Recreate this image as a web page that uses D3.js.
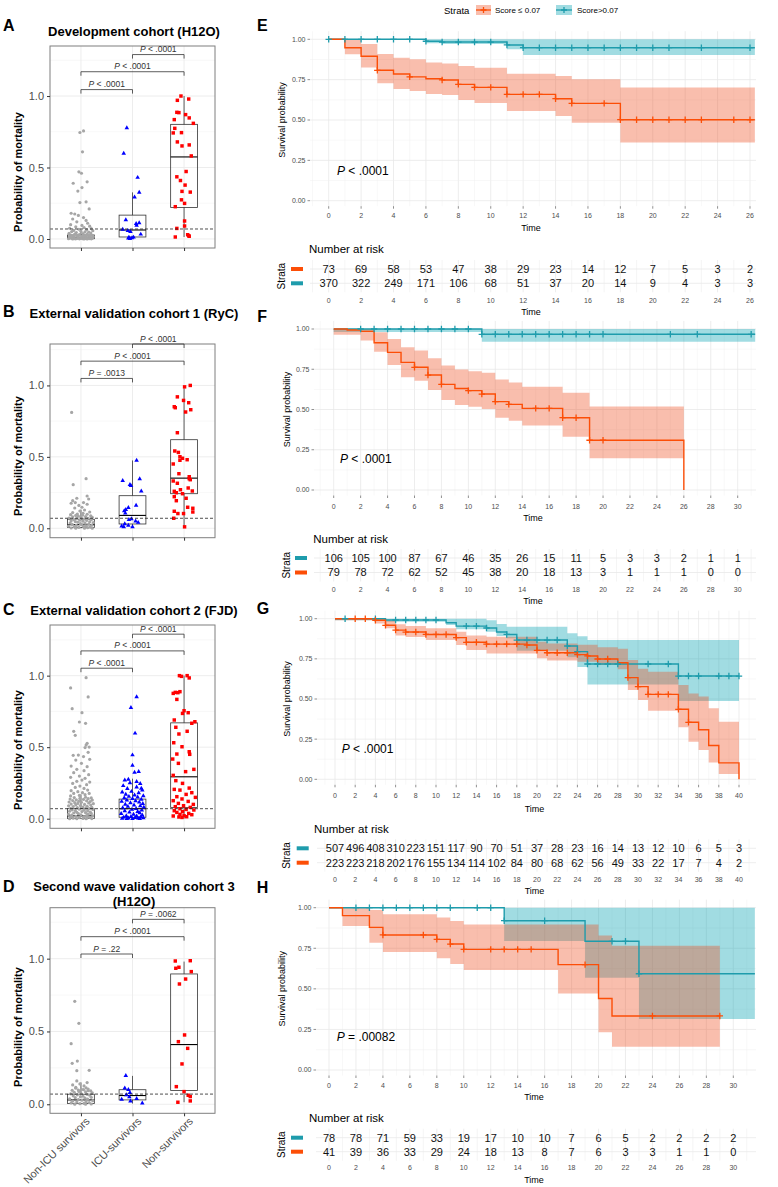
<!DOCTYPE html>
<html><head><meta charset="utf-8">
<script src="https://cdn.jsdelivr.net/npm/d3@7"></script>
<style>
body{margin:0;background:#fff}
svg{display:block}
text{font-family:"Liberation Sans",Arial,Helvetica,sans-serif}
</style></head>
<body><svg id="c" width="778" height="1187"></svg>
<script>
// ================= DATA =================
const categories = ['Non-ICU survivors','ICU-survivors','Non-survivors'];
const boxYTicks = [0, 0.5, 1.0];
const kmYTicks = [0, 0.25, 0.5, 0.75, 1.0];
const strataLabels = ['Score \u2264 0.07','Score>0.07'];
const bracketPairs = [[0,1],[0,2],[1,2]];

// points: [probability, horizontal jitter in category units]
const A_nonICU = [[0.745,-0.02],[0.756,0.05],[0.61,0.03],[0.47,-0.04],[0.46,0.01],[0.39,-0.15],[0.40,0.12],[0.335,-0.06],[0.36,0.02],[0.255,-0.02],[0.26,0.10],[0.21,0.16],[0.18,-0.19],[0.175,-0.12],[0.165,-0.05],[0.15,0.05],[0.14,-0.16],[0.13,0.10],[0.12,-0.08],[0.11,0.13],[0.10,-0.20],[0.095,0.02],[0.09,0.17],[0.085,-0.10],[0.08,0.06],[0.075,-0.22],[0.072,0.20],[0.068,-0.04],[0.065,0.11],[0.06,-0.14],[0.058,0.23],[0.055,0.00],[0.052,-0.18],[0.05,0.08],[0.048,0.15],[0.045,-0.09],[0.042,0.19],[0.04,-0.23],[0.038,0.04],[0.035,-0.12],[0.033,0.12],[0.03,-0.03],[0.028,0.21],[0.026,-0.19],[0.024,0.07],[0.022,-0.07],[0.02,0.16],[0.018,-0.15],[0.016,0.02],[0.015,0.24],[0.013,-0.22],[0.012,0.10],[0.011,-0.05],[0.010,0.18],[0.009,-0.13],[0.008,0.05],[0.007,-0.20],[0.006,0.13],[0.005,-0.01],[0.005,0.22],[0.004,-0.17],[0.004,0.09],[0.003,-0.08],[0.003,0.16],[0.002,-0.24],[0.002,0.03],[0.001,-0.11],[0.001,0.20],[0.001,-0.03],[0.0,0.12],[0.0,-0.16],[0.0,0.06]];
const A_ICU = [[0.777,-0.11],[0.598,-0.17],[0.43,0.10],[0.326,0.13],[0.293,0.04],[0.133,-0.13],[0.107,0.07],[0.112,0.13],[0.095,0.08],[0.067,-0.19],[0.058,-0.09],[0.051,-0.04],[0.033,0.16],[0.012,-0.07],[0.007,-0.01],[0.012,0.02],[0.002,-0.05],[0.005,-0.08]];
const A_nonSurv = [[1.0,-0.06],[0.979,0.09],[0.97,-0.13],[0.886,-0.14],[0.884,-0.1],[0.87,0.03],[0.835,-0.19],[0.847,0.10],[0.809,0.18],[0.774,-0.18],[0.742,-0.21],[0.744,-0.05],[0.679,-0.13],[0.651,-0.04],[0.658,0.10],[0.581,0.14],[0.472,0.04],[0.435,-0.14],[0.409,-0.07],[0.377,0.02],[0.333,-0.04],[0.328,0.12],[0.274,-0.05],[0.249,0.01],[0.226,-0.17],[0.126,0.01],[0.091,0.01],[0.074,-0.14],[0.014,-0.17],[0.03,0.07],[0.023,0.09],[0.019,0.10]];
const A_box = [[0,0.002,0.012,0.028,0.064],[0.002,0.014,0.063,0.167,0.326],[0.014,0.221,0.574,0.802,1.0]];
const A_bracketY = [1.045,1.17,1.29];
const A_pLabels = ['P < .0001','P < .0001','P < .0001'];

const B_nonICU = [[0.811,-0.18],[0.347,0.10],[0.305,-0.15],[0.226,0.12],[0.21,-0.08],[0.205,0.15],[0.193,-0.16],[0.18,-0.11],[0.18,0.05],[0.175,-0.19],[0.16,-0.04],[0.168,0.12],[0.147,0.02],[0.142,-0.12],[0.121,-0.02],[0.128,0.07],[0.114,0.17],[0.11,-0.16],[0.105,0.04],[0.10,-0.07],[0.098,0.12],[0.095,-0.2],[0.092,0.03],[0.09,-0.1],[0.087,0.19],[0.085,-0.05],[0.082,0.09],[0.08,-0.16],[0.077,0.22],[0.075,0.0],[0.072,-0.23],[0.07,0.14],[0.067,-0.08],[0.065,0.06],[0.062,-0.14],[0.06,0.2],[0.057,-0.02],[0.055,0.11],[0.052,-0.19],[0.05,0.04],[0.047,-0.11],[0.045,0.17],[0.042,-0.06],[0.04,0.24],[0.037,-0.21],[0.035,0.08],[0.032,-0.01],[0.03,0.15],[0.027,-0.17],[0.025,0.02],[0.022,0.21],[0.02,-0.09],[0.017,0.1],[0.015,-0.24],[0.012,0.05],[0.01,-0.13],[0.008,0.18],[0.006,-0.04],[0.004,0.13],[0.002,-0.19],[0.001,0.07],[0.0,-0.1],[0.0,0.22]];
const B_ICU = [[0.475,0.08],[0.345,0.14],[0.333,-0.19],[0.305,-0.05],[0.298,-0.03],[0.26,0.17],[0.16,0.07],[0.13,-0.13],[0.122,-0.16],[0.145,-0.08],[0.105,-0.14],[0.065,-0.02],[0.06,-0.07],[0.05,0.06],[0.04,0.11],[0.03,-0.15],[0.02,-0.08],[0.01,-0.17],[0.01,0.0],[0.015,-0.21]];
const B_nonSurv = [[1.0,0.12],[0.99,0.01],[0.92,-0.13],[0.895,-0.01],[0.879,0.09],[0.851,-0.19],[0.844,-0.17],[0.814,0.03],[0.83,0.13],[0.669,-0.13],[0.541,-0.18],[0.531,-0.11],[0.501,-0.08],[0.49,-0.03],[0.48,0.06],[0.476,-0.08],[0.45,-0.21],[0.382,-0.10],[0.361,0.10],[0.347,0.10],[0.34,0.12],[0.331,-0.21],[0.315,-0.13],[0.282,0.08],[0.27,-0.07],[0.259,-0.19],[0.261,0.16],[0.249,-0.15],[0.242,-0.03],[0.221,-0.19],[0.21,0.04],[0.193,-0.15],[0.147,0.07],[0.14,0.17],[0.119,-0.19],[0.114,0.17],[0.103,-0.12],[0.103,-0.01],[0.07,-0.2],[0.01,0.01]];
const B_box = [[0,0.005,0.025,0.063,0.13],[0.005,0.03,0.09,0.228,0.475],[0.01,0.242,0.351,0.62,0.98]];
const B_bracketY = [1.049,1.17,1.29];
const B_pLabels = ['P = .0013','P < .0001','P < .0001'];

const C_nonICU = [[0.986,0.10],[0.914,-0.2],[0.851,0.14],[0.769,-0.17],[0.741,0.02],[0.676,-0.03],[0.667,0.09],[0.611,-0.14],[0.583,-0.11],[0.527,0.12],[0.515,0.10],[0.501,0.16],[0.497,0.08],[0.464,0.14],[0.445,-0.05],[0.443,-0.15],[0.434,0.05],[0.41,-0.1],[0.415,0.17],[0.387,0.01],[0.368,-0.19],[0.364,0.12],[0.345,-0.08],[0.336,0.06],[0.322,-0.14],[0.308,0.15],[0.298,-0.03],[0.289,-0.2],[0.282,0.08],[0.27,0.02],[0.261,-0.08],[0.256,0.17],[0.247,-0.16],[0.238,0.11],[0.228,-0.02],[0.219,-0.11],[0.212,0.06],[0.2,0.13],[0.196,-0.19],[0.189,-0.06],[0.182,0.03],[0.177,-0.14],[0.177,0.16],[0.168,0.08],[0.163,-0.03],[0.159,-0.2],[0.15,0.09],[0.148,-0.13],[0.145,0.2],[0.142,-0.02],[0.14,0.14],[0.137,-0.21],[0.135,0.05],[0.132,-0.09],[0.13,0.22],[0.127,-0.16],[0.125,0.11],[0.122,-0.04],[0.12,0.18],[0.117,-0.23],[0.115,0.01],[0.112,-0.12],[0.11,0.15],[0.107,-0.06],[0.105,0.24],[0.102,-0.19],[0.1,0.07],[0.097,-0.1],[0.095,0.19],[0.092,-0.01],[0.09,-0.24],[0.087,0.12],[0.085,-0.15],[0.082,0.04],[0.08,0.21],[0.077,-0.07],[0.075,0.1],[0.072,-0.2],[0.07,0.16],[0.067,-0.03],[0.065,0.23],[0.062,-0.17],[0.06,0.06],[0.057,-0.11],[0.055,0.13],[0.052,-0.22],[0.05,0.02],[0.047,0.18],[0.045,-0.08],[0.042,0.09],[0.04,-0.14],[0.037,0.2],[0.035,-0.05],[0.032,0.14],[0.03,-0.24],[0.027,0.0],[0.025,-0.18],[0.022,0.11],[0.02,0.23],[0.017,-0.1],[0.015,0.06],[0.012,-0.2],[0.01,0.17],[0.008,-0.03],[0.006,0.12],[0.004,-0.15],[0.002,0.04],[0.001,0.21],[0.0,-0.08],[0.0,0.1],[0.0,-0.22]];
const C_ICU = [[0.851,0.08],[0.776,-0.03],[0.597,0.05],[0.445,0.0],[0.373,0.0],[0.329,0.12],[0.324,0.04],[0.27,-0.15],[0.275,-0.08],[0.259,0.08],[0.212,0.17],[0.25,-0.05],[0.245,0.15],[0.23,-0.18],[0.22,0.08],[0.21,-0.1],[0.2,0.19],[0.19,-0.02],[0.185,-0.2],[0.18,0.12],[0.17,-0.13],[0.165,0.04],[0.16,0.21],[0.155,-0.07],[0.15,0.1],[0.145,-0.16],[0.14,0.0],[0.135,0.17],[0.13,-0.11],[0.125,0.06],[0.12,-0.21],[0.115,0.13],[0.11,-0.04],[0.105,0.2],[0.1,-0.14],[0.095,0.03],[0.09,0.15],[0.085,-0.09],[0.08,0.22],[0.075,-0.19],[0.07,0.07],[0.065,-0.01],[0.06,0.18],[0.055,-0.15],[0.05,0.1],[0.045,-0.06],[0.04,0.14],[0.035,-0.22],[0.03,0.02],[0.025,0.19],[0.02,-0.12],[0.018,0.08],[0.015,-0.03],[0.012,0.16],[0.01,-0.17],[0.008,0.05],[0.006,0.21],[0.004,-0.08],[0.003,0.11],[0.002,-0.2],[0.001,0.0],[0.0,0.14],[0.0,-0.11]];
const C_nonSurv = [[1.0,-0.09],[0.995,-0.05],[1.0,0.06],[0.984,0.10],[0.876,-0.21],[0.883,-0.17],[0.888,-0.08],[0.881,-0.12],[0.834,-0.14],[0.755,0.0],[0.741,0.08],[0.736,-0.03],[0.69,-0.19],[0.678,0.21],[0.667,0.15],[0.639,-0.16],[0.611,0.06],[0.592,-0.1],[0.531,-0.2],[0.503,-0.04],[0.468,0.10],[0.452,-0.14],[0.45,0.11],[0.417,-0.22],[0.387,-0.11],[0.345,0.19],[0.329,0.03],[0.303,-0.21],[0.266,-0.16],[0.247,-0.03],[0.214,0.10],[0.205,-0.19],[0.2,-0.08],[0.182,0.15],[0.17,0.04],[0.154,-0.14],[0.149,0.22],[0.138,-0.04],[0.126,-0.21],[0.121,0.08],[0.107,-0.11],[0.1,0.18],[0.091,-0.01],[0.084,-0.17],[0.079,0.12],[0.07,-0.08],[0.065,0.04],[0.061,0.19],[0.056,-0.19],[0.049,-0.03],[0.044,-0.14],[0.037,0.09],[0.03,-0.08],[0.028,0.15],[0.021,0.0],[0.019,-0.21],[0.012,-0.1],[0.014,0.05],[0.009,-0.04]];
const C_box = [[0,0.002,0.02,0.07,0.17],[0,0.01,0.07,0.137,0.28],[0,0.079,0.293,0.67,1.0]];
const C_bracketY = [1.052,1.173,1.29];
const C_pLabels = ['P < .0001','P < .0001','P < .0001'];

const D_nonICU = [[0.707,-0.12],[0.556,-0.04],[0.416,-0.19],[0.297,-0.07],[0.281,-0.17],[0.231,-0.08],[0.233,0.16],[0.16,-0.08],[0.149,0.12],[0.14,-0.02],[0.133,-0.16],[0.126,0.06],[0.117,-0.10],[0.112,0.10],[0.103,0.01],[0.098,-0.05],[0.094,0.14],[0.11,-0.1],[0.105,0.14],[0.1,0.05],[0.096,-0.17],[0.092,0.19],[0.088,-0.04],[0.085,0.09],[0.082,-0.13],[0.078,0.22],[0.075,0.0],[0.072,-0.2],[0.068,0.12],[0.065,-0.07],[0.062,0.17],[0.058,-0.15],[0.055,0.04],[0.052,-0.01],[0.048,0.2],[0.045,-0.11],[0.042,0.08],[0.038,-0.22],[0.035,0.13],[0.032,-0.05],[0.028,0.02],[0.025,0.23],[0.022,-0.16],[0.018,0.1],[0.015,-0.08],[0.012,0.16],[0.009,-0.19],[0.006,0.06],[0.004,-0.02],[0.002,0.2],[0.001,-0.12],[0.0,0.09]];
const D_ICU = [[0.197,-0.13],[0.11,-0.15],[0.1,-0.08],[0.08,-0.05],[0.064,-0.12],[0.05,-0.06],[0.039,0.08],[0.021,-0.04],[0.007,0.19],[0.034,-0.21]];
const D_nonSurv = [[0.986,0.12],[0.984,-0.17],[0.941,-0.1],[0.934,-0.16],[0.911,0.14],[0.86,0.03],[0.826,-0.09],[0.476,0.01],[0.43,-0.11],[0.384,0.07],[0.277,-0.04],[0.121,-0.15],[0.087,0.0],[0.062,0.08],[0.053,0.12],[0.023,0.12],[0.014,-0.12]];
const D_box = [[0,0.005,0.03,0.069,0.15],[0.005,0.03,0.06,0.10,0.195],[0.014,0.095,0.41,0.895,0.98]];
const D_bracketY = [1.032,1.151,1.27];
const D_pLabels = ['P = .22','P < .0001','P = .0062'];

// ---- Kaplan-Meier data (low = Score <= 0.07, high = Score > 0.07) ----
const E_low_time  = [0,1,2,3,4,5,6,7,8,9,11,14,15,18,26.3];
const E_low_surv  = [1,0.948,0.895,0.808,0.785,0.767,0.756,0.748,0.721,0.702,0.659,0.632,0.603,0.502,0.502];
const E_low_lower = [1,0.907,0.826,0.727,0.692,0.68,0.661,0.655,0.624,0.605,0.556,0.525,0.483,0.36,0.36];
const E_low_upper = [1,1,0.971,0.909,0.886,0.876,0.857,0.85,0.835,0.824,0.787,0.773,0.752,0.702,0.702];
const E_low_censor = [3,5,7,8,9,10,11,12,13,14,15,17,18,19,20,21,22,23,25,26];
const E_high_time  = [0,6,7,11,12,26.3];
const E_high_surv  = [1,0.988,0.983,0.965,0.948,0.948];
const E_high_lower = [0.995,0.975,0.971,0.938,0.903,0.903];
const E_high_upper = [1,1,1,1,1,1];
const E_high_censor = [0,1,2,3,4,5,6,7,8,9,10,11,12,13,14,15,16,17,18,19,20,21,23,26];
const E_risk_low  = [73,69,58,53,47,38,29,23,14,12,7,5,3,2];
const E_risk_high = [370,322,249,171,106,68,51,37,20,14,9,4,3,3];

const F_low_time  = [0,1,2,3,4,5,6,7,8,9,10,11,12,13,14,17,19,26];
const F_low_surv  = [1,0.994,0.985,0.915,0.855,0.793,0.762,0.714,0.656,0.63,0.617,0.596,0.549,0.532,0.507,0.449,0.309,0];
const F_low_lower = [0.965,0.965,0.928,0.859,0.776,0.70,0.679,0.621,0.559,0.528,0.517,0.503,0.449,0.43,0.40,0.331,0.197,0.197];
const F_low_upper = [1,1,1,0.98,0.938,0.886,0.867,0.818,0.774,0.749,0.737,0.729,0.687,0.667,0.642,0.604,0.518,0.518];
const F_low_censor = [6,7,8,10,11,12,13,15,16,17,18,19,20];
const F_high_time  = [0,11,31.3];
const F_high_surv  = [1,0.967,0.967];
const F_high_lower = [0.982,0.921,0.921];
const F_high_upper = [1,1,1];
const F_high_censor = [2,3,4,5,6,7,8,9,10,11,12,13,14,15,16,17,18,19,20,25,27,31];
const F_risk_high = [106,105,100,87,67,46,35,26,15,11,5,3,3,2,1,1];
const F_risk_low  = [79,78,72,62,52,45,38,20,18,13,3,1,1,1,0,0];

const G_low_time  = [0,4,5,6,7,9,12,13,15,19,20,21,24,25,26,28,29,30,31,34,35,36,37,38,40];
const G_low_surv  = [1,0.99,0.959,0.929,0.917,0.902,0.882,0.853,0.842,0.836,0.803,0.788,0.776,0.768,0.749,0.726,0.633,0.577,0.529,0.436,0.355,0.309,0.21,0.102,0];
const G_low_lower = [0.99,0.97,0.94,0.896,0.886,0.867,0.836,0.805,0.784,0.784,0.753,0.739,0.732,0.732,0.712,0.685,0.556,0.494,0.427,0.324,0.234,0.183,0.104,0.033,0.033];
const G_low_upper = [1,1,0.99,0.965,0.954,0.94,0.919,0.896,0.888,0.888,0.857,0.846,0.838,0.838,0.822,0.813,0.743,0.689,0.67,0.587,0.535,0.515,0.442,0.359,0.359];
const G_low_censor = [2,3,4,5,6,7,8,9,10,11,12,13,14,15,16,17,18,19,20,21,22,23,24,25,26,27,29,30,31,32,33,34,35];
const G_high_time  = [0,5,11,12,15,16,17,18,23,24,25,34,40];
const G_high_surv  = [1,0.992,0.975,0.954,0.942,0.917,0.902,0.867,0.83,0.795,0.718,0.643,0.643];
const G_high_lower = [0.99,0.981,0.96,0.934,0.919,0.892,0.878,0.80,0.76,0.70,0.591,0.488,0.488];
const G_high_upper = [1,1,1,1,0.99,0.967,0.95,0.95,0.91,0.89,0.867,0.867,0.867];
const G_high_censor = [1,4,6,7,8,9,10,13,14,15,17,18,19,20,21,22,23,24,25,26,27,28,31,33,34,35,36,38,39,40];
const G_risk_high = [507,496,408,310,223,151,117,90,70,51,37,28,23,16,14,13,12,10,6,5,3];
const G_risk_low  = [223,223,218,202,176,155,134,114,102,84,80,68,62,56,49,33,22,17,7,4,2];

const H_low_time  = [0,1,3,4,8,9,10,17,20,21,29];
const H_low_surv  = [1,0.951,0.879,0.832,0.805,0.776,0.743,0.649,0.441,0.333,0.333];
const H_low_lower = [1,0.887,0.784,0.727,0.688,0.653,0.616,0.472,0.232,0.144,0.144];
const H_low_upper = [1,1,0.986,0.959,0.94,0.918,0.897,0.897,0.828,0.766,0.766];
const H_low_censor = [4,7,8,9,10,12,13,14,15,19,24,29];
const H_high_time  = [0,13,19,23,31.6];
const H_high_surv  = [1,0.92,0.793,0.593,0.593];
const H_high_lower = [1,0.795,0.568,0.314,0.314];
const H_high_upper = [1,1,1,1,1];
const H_high_censor = [2,3,4,5,6,7,8,9,11,12,13,16,21,22,23];
const H_risk_high = [78,78,71,59,33,19,17,10,10,7,6,5,2,2,2,2];
const H_risk_low  = [41,39,36,33,29,24,18,13,8,7,6,3,3,1,1,0];

const pValuesKM = ['< .0001','< .0001','< .0001','= .00082'];

// ================= STYLE / LAYOUT =================
const COL = {gray:'#A6A6A6', blue:'#0000FF', red:'#FF0000',
  low:'#FC4E07', lowFill:'#F05020', high:'#1E9CAC', highFill:'#009FAF'};
const svg = d3.select('#c');
const PL = 50, PR = 215;

const boxPanels = [
 {letter:'A', letterY:31, title:['Development cohort (H12O)'], titleY:[35.5], top:46, bottom:248, dom:[-0.063,1.35], ytY:172,
  pts:[A_nonICU,A_ICU,A_nonSurv], box:A_box, br:A_bracketY, pl:A_pLabels},
 {letter:'B', letterY:317, title:['External validation cohort 1 (RyC)'], titleY:[318], top:344, bottom:537.7, dom:[-0.066,1.29], ytY:456,
  pts:[B_nonICU,B_ICU,B_nonSurv], box:B_box, br:B_bracketY, pl:B_pLabels},
 {letter:'C', letterY:614.5, title:['External validation cohort 2 (FJD)'], titleY:[615], top:625, bottom:828.3, dom:[-0.067,1.354], ytY:750,
  pts:[C_nonICU,C_ICU,C_nonSurv], box:C_box, br:C_bracketY, pl:C_pLabels},
 {letter:'D', letterY:892, title:['Second wave validation cohort 3','(H12O)'], titleY:[891,906], top:907.7, bottom:1113.3, dom:[-0.062,1.35], ytY:1027,
  pts:[D_nonICU,D_ICU,D_nonSurv], box:D_box, br:D_bracketY, pl:D_pLabels, xLabels:true}
];

function pLabel(sel, txt){
  const m = txt.match(/^P(.*)$/);
  sel.append('tspan').attr('font-style','italic').text('P');
  sel.append('tspan').text(m ? m[1] : txt);
}

function drawBoxPanel(L){
  const g = svg.append('g');
  const x = d3.scalePoint().domain(categories).range([PL, PR]).padding(0.6);
  const step = x.step();
  const y = d3.scaleLinear().domain(L.dom).range([L.bottom, L.top]);
  const minor = [0.25,0.75,1.25].filter(v => v < L.dom[1]);
  g.selectAll(null).data(minor).join('line')
    .attr('x1',PL).attr('x2',PR).attr('y1',d=>y(d)).attr('y2',d=>y(d))
    .attr('stroke','#F3F3F3').attr('stroke-width',0.6);
  g.selectAll(null).data(boxYTicks).join('line')
    .attr('x1',PL).attr('x2',PR).attr('y1',d=>y(d)).attr('y2',d=>y(d))
    .attr('stroke','#EBEBEB').attr('stroke-width',0.9);
  g.selectAll(null).data(categories).join('line')
    .attr('x1',d=>x(d)).attr('x2',d=>x(d)).attr('y1',L.top).attr('y2',L.bottom)
    .attr('stroke','#EBEBEB').attr('stroke-width',0.9);

  // boxes
  const half = 0.26*step;
  L.box.forEach((s,i)=>{
    const cx = x(categories[i]);
    const bg = g.append('g').attr('stroke','#333').attr('stroke-width',0.8).attr('fill','none');
    bg.append('line').attr('x1',cx).attr('x2',cx).attr('y1',y(s[3])).attr('y2',y(s[4]));
    bg.append('line').attr('x1',cx).attr('x2',cx).attr('y1',y(s[1])).attr('y2',y(s[0]));
    bg.append('rect').attr('x',cx-half).attr('width',2*half).attr('y',y(s[3])).attr('height',y(s[1])-y(s[3]));
    bg.append('line').attr('x1',cx-half).attr('x2',cx+half).attr('y1',y(s[2])).attr('y2',y(s[2])).attr('stroke','#000').attr('stroke-width',1.1);
  });

  // points
  const pg = g.append('g');
  pg.selectAll(null).data(L.pts[0]).join('circle')
    .attr('cx',d=>x(categories[0])+d[1]*step).attr('cy',d=>y(d[0])).attr('r',1.6).attr('fill',COL.gray);
  pg.selectAll(null).data(L.pts[1]).join('path')
    .attr('d',d3.symbol(d3.symbolTriangle,9))
    .attr('transform',d=>`translate(${x(categories[1])+d[1]*step},${y(d[0])})`).attr('fill',COL.blue);
  pg.selectAll(null).data(L.pts[2]).join('path')
    .attr('d',d3.symbol(d3.symbolSquare,12))
    .attr('transform',d=>`translate(${x(categories[2])+d[1]*step},${y(d[0])})`).attr('fill',COL.red);

  // dashed threshold line
  g.append('line').attr('x1',PL).attr('x2',PR).attr('y1',y(0.07)).attr('y2',y(0.07))
    .attr('stroke','#222').attr('stroke-width',0.8).attr('stroke-dasharray','3,2');

  // border
  g.append('rect').attr('x',PL).attr('y',L.top).attr('width',PR-PL).attr('height',L.bottom-L.top)
    .attr('fill','none').attr('stroke','#7F7F7F').attr('stroke-width',1);

  // axes
  const ya = g.append('g').attr('transform',`translate(${PL},0)`)
    .call(d3.axisLeft(y).tickValues(boxYTicks).tickFormat(d3.format('.1f')).tickSize(3).tickPadding(3));
  ya.select('.domain').remove();
  ya.selectAll('line').attr('stroke','#333');
  ya.selectAll('text').attr('font-size',11).attr('fill','#4D4D4D').attr('font-family','"Liberation Sans",Arial,sans-serif');
  const xa = g.append('g').attr('transform',`translate(0,${L.bottom})`)
    .call(d3.axisBottom(x).tickSize(3).tickFormat(''));
  xa.select('.domain').remove();
  xa.selectAll('line').attr('stroke','#333');
  if(L.xLabels){
    g.selectAll(null).data(categories).join('text')
      .attr('transform',d=>`translate(${x(d)+4},${L.bottom+3}) rotate(-45)`)
      .attr('text-anchor','end').attr('dy','0.72em').attr('font-size',10.8).attr('fill','#4D4D4D')
      .text(d=>d);
  }

  // brackets
  bracketPairs.forEach((p,i)=>{
    const x1 = x(categories[p[0]]), x2 = x(categories[p[1]]), yy = y(L.br[i]);
    g.append('path').attr('d',`M${x1},${yy+4}V${yy}H${x2}V${yy+4}`)
      .attr('fill','none').attr('stroke','#333').attr('stroke-width',0.8);
    const t = g.append('text').attr('x',(x1+x2)/2).attr('y',yy-2.5).attr('text-anchor','middle')
      .attr('font-size',8.5).attr('fill','#333');
    pLabel(t, L.pl[i]);
  });

  // titles
  L.title.forEach((t,i)=>{
    g.append('text').attr('x',134).attr('y',L.titleY[i]).attr('text-anchor','middle')
      .attr('font-size',13).attr('font-weight','bold').attr('fill','#000').text(t);
  });
  g.append('text').attr('x',3).attr('y',L.letterY).attr('font-size',16).attr('font-weight','bold').text(L.letter);
  g.append('text').attr('transform',`translate(22,${L.ytY}) rotate(-90)`).attr('text-anchor','middle')
    .attr('font-size',11).attr('font-weight','bold').text('Probability of mortality');
}
boxPanels.forEach(drawBoxPanel);

// ================= KM PANELS =================
function curve(time,surv,lower,upper,censor,key){
  return {key, pts: time.map((t,i)=>({t, s:surv[i], lo:lower[i], up:upper[i]})), censor};
}
const kmPanels = [
 {letter:'E', lx:257, ly:31, x0:328.7, x1:750, tRef:26, left:310, right:756, y1:39.3, y0:200.7,
  tickY:217.5, timeY:231, pX:337, pY:174.5, p:pValuesKM[0],
  strataX:281.7, keyX:291, rtX:309, rtY:253, rows:[269,283.3], rTickY:302.8, rTimeY:314.5,
  curves:[curve(E_high_time,E_high_surv,E_high_lower,E_high_upper,E_high_censor,'high'),
          curve(E_low_time,E_low_surv,E_low_lower,E_low_upper,E_low_censor,'low')],
  risk:[{key:'low',v:E_risk_low},{key:'high',v:E_risk_high}]},
 {letter:'F', lx:257.3, ly:322, x0:333.7, x1:737.7, tRef:30, left:314, right:756, y1:329, y0:490,
  tickY:509.2, timeY:521, pX:340, pY:463, p:pValuesKM[1],
  strataX:286.7, keyX:295, rtX:313.3, rtY:542.5, rows:[558,572.5], rTickY:591.5, rTimeY:603.5,
  curves:[curve(F_high_time,F_high_surv,F_high_lower,F_high_upper,F_high_censor,'high'),
          curve(F_low_time,F_low_surv,F_low_lower,F_low_upper,F_low_censor,'low')],
  risk:[{key:'high',v:F_risk_high},{key:'low',v:F_risk_low}]},
 {letter:'G', lx:256.7, ly:614, x0:335, x1:739, tRef:40, left:317, right:756, y1:618.7, y0:779.3,
  tickY:798.2, timeY:811.5, pX:341.7, pY:752.5, p:pValuesKM[2],
  strataX:286.7, keyX:296.7, rtX:314, rtY:832.5, rows:[848.3,862.7], rTickY:881.8, rTimeY:893.5,
  curves:[curve(G_high_time,G_high_surv,G_high_lower,G_high_upper,G_high_censor,'high'),
          curve(G_low_time,G_low_surv,G_low_lower,G_low_upper,G_low_censor,'low')],
  risk:[{key:'high',v:G_risk_high},{key:'low',v:G_risk_low}]},
 {letter:'H', lx:256.7, ly:893, x0:329, x1:733.3, tRef:30, left:316, right:756, y1:907.7, y0:1070,
  tickY:1087.5, timeY:1100, pX:336.7, pY:1041, p:pValuesKM[3],
  strataX:281.7, keyX:291, rtX:309, rtY:1122, rows:[1137.7,1151.7], rTickY:1170.2, rTimeY:1182.5,
  curves:[curve(H_high_time,H_high_surv,H_high_lower,H_high_upper,H_high_censor,'high'),
          curve(H_low_time,H_low_surv,H_low_lower,H_low_upper,H_low_censor,'low')],
  risk:[{key:'high',v:H_risk_high},{key:'low',v:H_risk_low}]}
];

function stepValue(pts,t){
  let s = pts[0].s;
  for(const p of pts){ if(p.t <= t+1e-9) s = p.s; }
  return s;
}

function drawKM(P, idx){
  const g = svg.append('g');
  const x = d3.scaleLinear().domain([0,P.tRef]).range([P.x0,P.x1]);
  const y = d3.scaleLinear().domain([0,1]).range([P.y0,P.y1]);
  const top = y(1.05), bottom = P.y0 + 5.5;
  const tA = Math.ceil(x.invert(P.left)), tB = Math.floor(x.invert(P.right));
  const ints = d3.range(tA, tB+1);
  // grid
  g.selectAll(null).data(ints).join('line')
    .attr('x1',d=>x(d)).attr('x2',d=>x(d)).attr('y1',top).attr('y2',bottom)
    .attr('stroke',d=> d%2===0 ? '#E8E8E8' : '#F1F1F1').attr('stroke-width',d=> d%2===0 ? 0.8 : 0.5);
  g.selectAll(null).data([0.125,0.375,0.625,0.875]).join('line')
    .attr('x1',P.left).attr('x2',P.right).attr('y1',d=>y(d)).attr('y2',d=>y(d))
    .attr('stroke','#F1F1F1').attr('stroke-width',0.5);
  g.selectAll(null).data(kmYTicks).join('line')
    .attr('x1',P.left).attr('x2',P.right).attr('y1',d=>y(d)).attr('y2',d=>y(d))
    .attr('stroke','#E8E8E8').attr('stroke-width',0.8);

  const cid = 'clip'+P.letter;
  svg.append('clipPath').attr('id',cid).append('rect')
    .attr('x',P.left).attr('y',top-4).attr('width',P.right-P.left).attr('height',bottom-top+4);
  const cg = g.append('g').attr('clip-path',`url(#${cid})`);
  const area = d3.area().curve(d3.curveStepAfter).x(d=>x(d.t)).y0(d=>y(d.lo)).y1(d=>y(d.up));
  const line = d3.line().curve(d3.curveStepAfter).x(d=>x(d.t)).y(d=>y(d.s));
  P.curves.forEach(c=>{
    cg.append('path').attr('d',area(c.pts)).attr('fill',c.key==='low'?COL.lowFill:COL.highFill).attr('fill-opacity',0.37);
  });
  P.curves.forEach(c=>{
    cg.append('path').attr('d',line(c.pts)).attr('fill','none').attr('stroke',c.key==='low'?COL.low:COL.high).attr('stroke-width',1.4);
  });
  P.curves.forEach(c=>{
    const col = c.key==='low'?COL.low:COL.high;
    cg.selectAll(null).data(c.censor).join('path')
      .attr('d',d=>{const cx=x(d), cy=y(stepValue(c.pts,d)); return `M${cx-3.2},${cy}H${cx+3.2}M${cx},${cy-3.2}V${cy+3.2}`;})
      .attr('stroke',col).attr('stroke-width',1.3).attr('fill','none');
  });

  // axes
  const xt = d3.range(0, P.tRef+0.01, 2);
  g.selectAll(null).data(xt).join('line').attr('x1',d=>x(d)).attr('x2',d=>x(d)).attr('y1',bottom).attr('y2',bottom+2.5)
    .attr('stroke','#444').attr('stroke-width',0.6);
  g.selectAll(null).data(xt).join('text').attr('x',d=>x(d)).attr('y',P.tickY).attr('text-anchor','middle')
    .attr('font-size',7).attr('fill','#4D4D4D').text(d=>d);
  g.selectAll(null).data(kmYTicks).join('line').attr('x1',P.left-2.5).attr('x2',P.left).attr('y1',d=>y(d)).attr('y2',d=>y(d))
    .attr('stroke','#444').attr('stroke-width',0.6);
  g.selectAll(null).data(kmYTicks).join('text').attr('x',P.left-4.5).attr('y',d=>y(d)).attr('dy','0.35em')
    .attr('text-anchor','end').attr('font-size',7).attr('fill','#4D4D4D').text(d3.format('.2f'));
  const cx = (P.left+P.right)/2 - 2;
  g.append('text').attr('x',cx).attr('y',P.timeY).attr('text-anchor','middle').attr('font-size',9).text('Time');
  g.append('text').attr('transform',`translate(${P.strataX},${y(0.5)}) rotate(-90)`).attr('text-anchor','middle')
    .attr('dy','0.35em').attr('font-size',9).text('Survival probability');
  const pt = g.append('text').attr('x',P.pX).attr('y',P.pY).attr('font-size',12);
  pt.append('tspan').attr('font-style','italic').text('P');
  pt.append('tspan').text(' '+P.p);
  g.append('text').attr('x',P.lx).attr('y',P.ly).attr('font-size',16).attr('font-weight','bold').text(P.letter);

  // risk table
  const rg = svg.append('g');
  const rTop = P.rows[0]-9, rBot = P.rows[1]+9;
  rg.selectAll(null).data(ints).join('line')
    .attr('x1',d=>x(d)).attr('x2',d=>x(d)).attr('y1',rTop).attr('y2',rBot)
    .attr('stroke',d=> d%2===0 ? '#E8E8E8' : '#EFEFEF').attr('stroke-width',d=> d%2===0 ? 0.8 : 0.6);
  rg.selectAll(null).data(P.rows).join('line')
    .attr('x1',P.left).attr('x2',P.right).attr('y1',d=>d).attr('y2',d=>d)
    .attr('stroke','#E8E8E8').attr('stroke-width',0.8);
  rg.append('text').attr('x',P.rtX).attr('y',P.rtY).attr('font-size',11.5).text('Number at risk');
  P.risk.forEach((r,i)=>{
    const ry = P.rows[i];
    rg.selectAll(null).data(r.v).join('text')
      .attr('x',(d,j)=>x(xt[j])).attr('y',ry).attr('dy','0.36em').attr('text-anchor','middle')
      .attr('font-size',11).attr('fill','#111').text(d=>d);
    rg.append('rect').attr('x',P.keyX).attr('y',ry-2).attr('width',12).attr('height',4)
      .attr('fill',r.key==='low'?COL.low:COL.high);
  });
  rg.append('text').attr('transform',`translate(${P.strataX},${(P.rows[0]+P.rows[1])/2}) rotate(-90)`)
    .attr('text-anchor','middle').attr('dy','0.35em').attr('font-size',10).text('Strata');
  rg.selectAll(null).data(xt).join('text').attr('x',d=>x(d)).attr('y',P.rTickY).attr('text-anchor','middle')
    .attr('font-size',7).attr('fill','#4D4D4D').text(d=>d);
  rg.append('text').attr('x',cx).attr('y',P.rTimeY).attr('text-anchor','middle').attr('font-size',9).text('Time');
}
kmPanels.forEach(drawKM);

// ================= LEGEND =================
const lg = svg.append('g');
lg.append('text').attr('x',444).attr('y',13.5).attr('font-size',9.5).text('Strata');
const legendItems = [{key:'low', x:476, w:15, tx:495, label:strataLabels[0]},{key:'high', x:556, w:16, tx:577, label:strataLabels[1]}];
legendItems.forEach(it=>{
  const col = it.key==='low'?COL.low:COL.high, fill = it.key==='low'?COL.lowFill:COL.highFill;
  lg.append('rect').attr('x',it.x).attr('y',5).attr('width',it.w).attr('height',10).attr('fill',fill).attr('fill-opacity',0.37);
  lg.append('line').attr('x1',it.x).attr('x2',it.x+it.w).attr('y1',10).attr('y2',10).attr('stroke',col).attr('stroke-width',1.3);
  const c = it.x+it.w/2;
  lg.append('path').attr('d',`M${c-3},10H${c+3}M${c},7V13`).attr('stroke',col).attr('stroke-width',1.3);
  lg.append('text').attr('x',it.tx).attr('y',13).attr('font-size',8).text(it.label);
});
</script></body></html>
